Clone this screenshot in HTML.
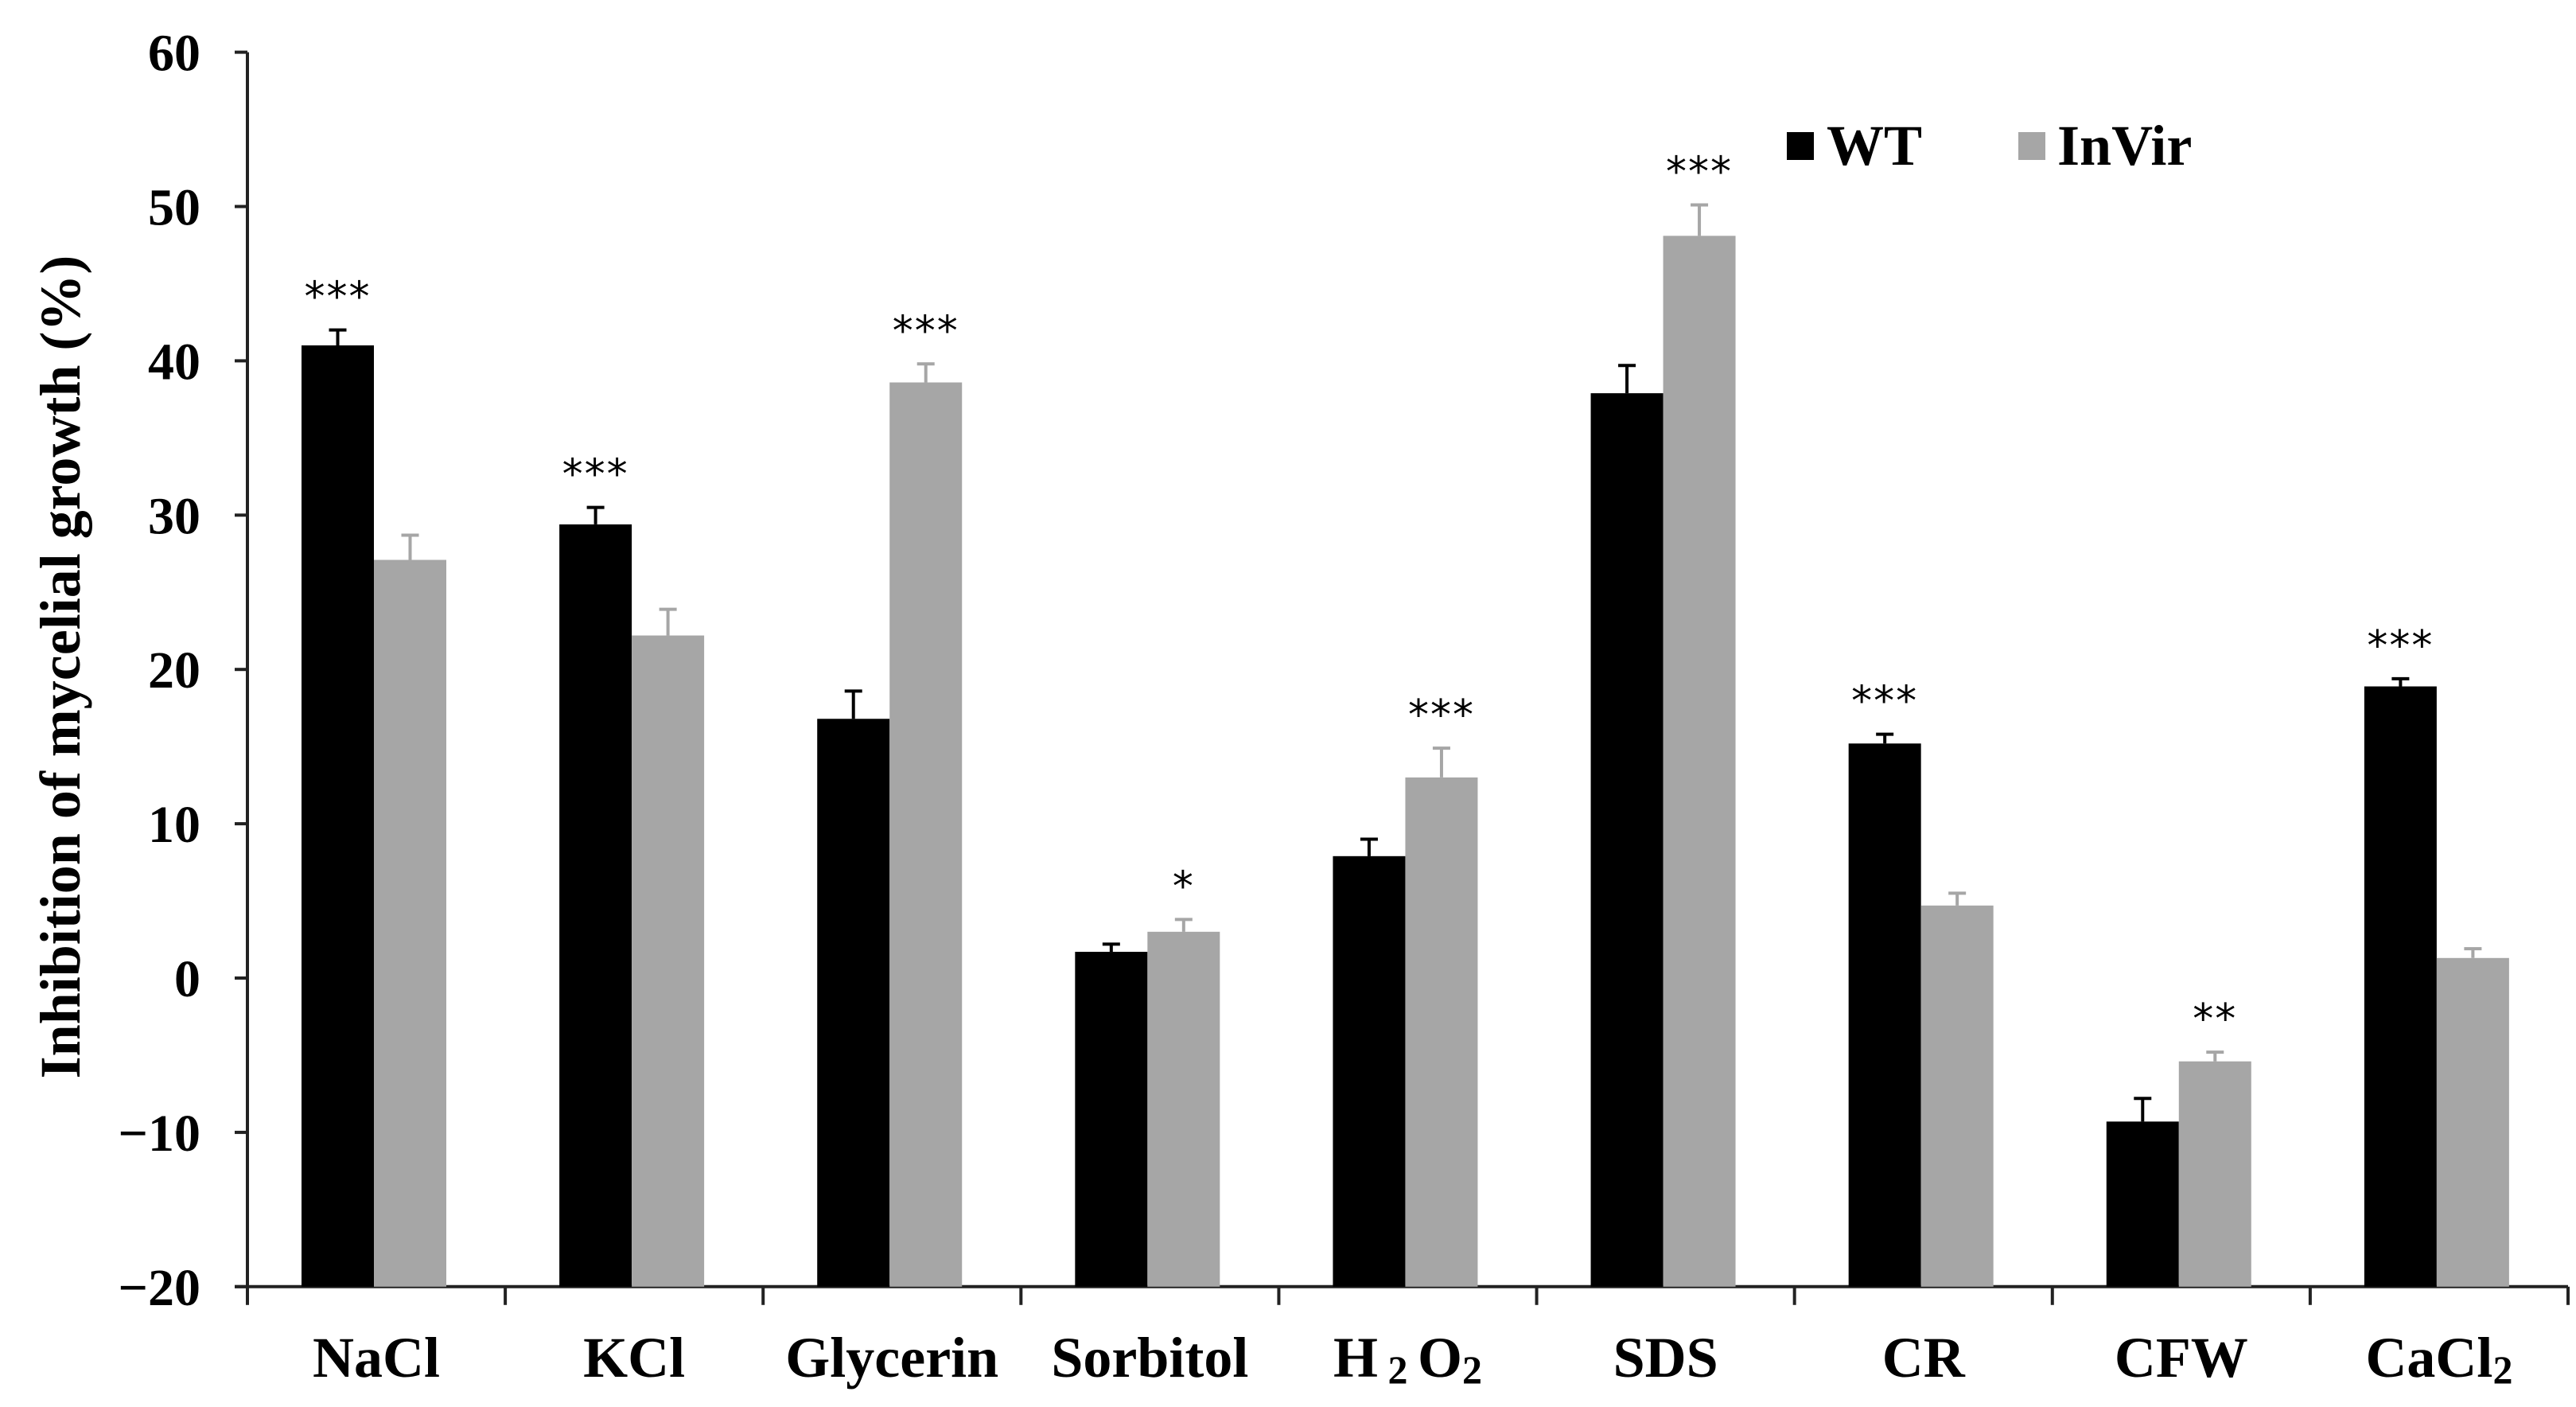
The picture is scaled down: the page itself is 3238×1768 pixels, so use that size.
<!DOCTYPE html>
<html><head><meta charset="utf-8"><style>
html,body{margin:0;padding:0;background:#fff;}
svg{display:block;font-family:"Liberation Serif",serif;font-weight:bold;}
</style></head><body>
<svg id="chart" width="3238" height="1768" viewBox="0 0 3238 1768" xmlns="http://www.w3.org/2000/svg">
<g id="axes"></g>
<g id="bars"></g>
<text transform="translate(100,838) rotate(-90)" text-anchor="middle" font-size="72">Inhibition of mycelial growth (%)</text>
<g>
<rect x="2246" y="166" width="34" height="35" fill="#000"/>
<text x="2296" y="207" font-size="72">WT</text>
<rect x="2537" y="166" width="34" height="35" fill="#a6a6a6"/>
<text x="2586" y="207" font-size="72">InVir</text>
</g>
</svg>
<script>
const categories = ["NaCl","KCl","Glycerin","Sorbitol","H2O2","SDS","CR","CFW","CaCl2"];
const wtValues = [41, 29.4, 16.8, 1.7, 7.9, 37.9, 15.2, -9.3, 18.9];
const wtErrors = [1.0, 1.1, 1.8, 0.5, 1.1, 1.8, 0.6, 1.5, 0.5];
const invirValues = [27.1, 22.2, 38.6, 3.0, 13.0, 48.1, 4.7, -5.4, 1.3];
const invirErrors = [1.6, 1.7, 1.2, 0.8, 1.9, 2.0, 0.8, 0.6, 0.6];
const wtStars = ["***","***","","","","","***","","***"];
const invirStars = ["","","***","*","***","***","","**",""];
const yTicks = [60, 50, 40, 30, 20, 10, 0, -10, -20];

const NS = "http://www.w3.org/2000/svg";
const X0 = 311, X1 = 3228, Y0 = 1229, PER = 19.39;
const yMin = -20, yMax = 60;
const catW = (X1 - X0) / categories.length;
const barW = 91, barOff = 68;
function y(v){ return Y0 - v * PER; }
function mk(tag, attrs, parent){ const e = document.createElementNS(NS, tag); for (const k in attrs) e.setAttribute(k, attrs[k]); parent.appendChild(e); return e; }
const axes = document.getElementById('axes');
const bars = document.getElementById('bars');

let l = mk('line', {x1:X0, y1:y(yMax), x2:X0, y2:y(yMin), stroke:'#222', 'stroke-width':4}, axes);


l = mk('line', {x1:X0-16, y1:y(yMin), x2:X1, y2:y(yMin), stroke:'#222', 'stroke-width':4}, axes);



yTicks.forEach(v => {
  const t = mk('line', {x1:X0-16, y1:y(v), x2:X0, y2:y(v), stroke:'#222', 'stroke-width':4}, axes);
  
  
  const tx = mk('text', {x:252, y:y(v)+23, 'text-anchor':'end', 'font-size':66}, axes);
  
  
  tx.textContent = v < 0 ? '\u2212' + Math.abs(v) : String(v);
});

for (let i = 0; i <= categories.length; i++) {
  const xx = X0 + i * catW;
  const t = mk('line', {x1:xx, y1:y(yMin), x2:xx, y2:y(yMin)+23, stroke:'#222', 'stroke-width':4}, axes);
  
  
}

function catLabel(name, cx){
  const t = mk('text', {x:cx, y:1730, 'text-anchor':'middle', 'font-size':72}, axes);
  
  
  if (name === 'H2O2') {
    t.innerHTML = 'H<tspan font-size="50" dy="8"> 2 </tspan><tspan dy="-8">O</tspan><tspan font-size="50" dy="8">2</tspan>';
  } else if (name === 'CaCl2') {
    t.innerHTML = 'CaCl<tspan font-size="50" dy="8">2</tspan>';
  } else {
    t.textContent = name;
  }
}

function drawBar(v, err, x, fill, errColor, stars, name){
  const r = mk('rect', {x:x, y:y(v), width:barW, height:y(yMin) - y(v), fill:fill}, bars);
  
  
  const cx = x + barW/2;
  const ev = v + err;
  const e = mk('path', {d:`M${cx},${y(v)} V${y(ev)} M${cx-11},${y(ev)} H${cx+11}`, stroke:errColor, 'stroke-width':4, fill:'none'}, bars);
  
  
  if (stars) {
    const s = mk('text', {x:cx, y:y(ev) - 24, 'text-anchor':'middle', 'font-size':52, 'font-weight':'normal', 'font-family':'"DejaVu Sans",sans-serif'}, bars);
    
    
    s.setAttribute('letter-spacing', '2');
    s.textContent = stars;
  }
}

categories.forEach((c, i) => {
  const base = X0 + i * catW + barOff;
  drawBar(wtValues[i], wtErrors[i], base, '#000', '#000', wtStars[i], 'bar-wt-' + c.toLowerCase());
  drawBar(invirValues[i], invirErrors[i], base + barW, '#a6a6a6', '#a6a6a6', invirStars[i], 'bar-invir-' + c.toLowerCase());
  catLabel(c, X0 + i * catW + catW/2);
});
</script>
</body></html>
